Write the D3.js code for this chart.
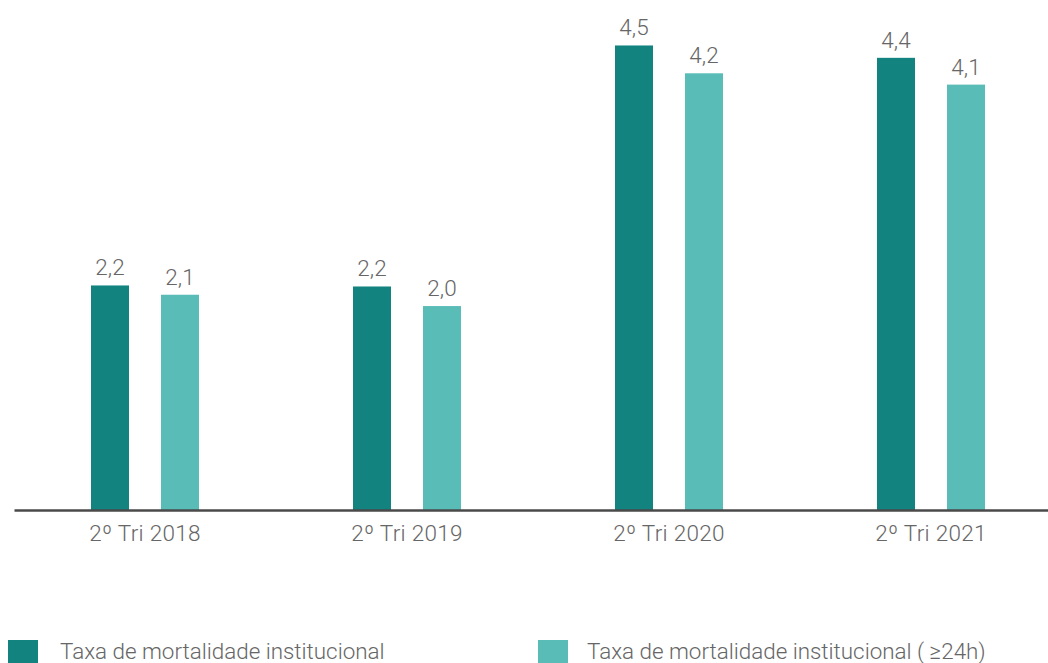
<!DOCTYPE html>
<meta charset="utf-8">
<style>
body { margin: 0; background: #fff; }
svg text { font-family: Roboto, "Noto Sans", sans-serif; font-weight: 300; fill: #666; }
.axis path { stroke: #4a4a4a; stroke-width: 2.5px; }
.axis text { font-size: 22.5px; letter-spacing: 0.3px; }
.value { font-size: 22.5px; }
.legend text { font-size: 22.4px; }
</style>
<svg width="1048" height="663"></svg>
<script src="https://cdn.jsdelivr.net/npm/d3@7"></script>
<script>

var categories = ["2º Tri 2018", "2º Tri 2019", "2º Tri 2020", "2º Tri 2021"];
var series = ["Taxa de mortalidade institucional", "Taxa de mortalidade institucional ( ≥24h)"];
var mortalidade = [2.18, 2.17, 4.51, 4.39];
var mortalidade24h = [2.09, 1.98, 4.24, 4.13];
var colors = ["#12837f", "#5abcb6"];

var svg = d3.select("svg");

var rows = categories.map(function(c, i) {
  return { cat: c, values: [mortalidade[i], mortalidade24h[i]] };
});

var x0 = d3.scaleBand()
    .domain(categories)
    .range([14, 1062]);

var x1 = d3.scaleBand()
    .domain(d3.range(series.length))
    .range([77, 185])
    .paddingInner(32 / 70);

var y = d3.scaleLinear()
    .domain([0, 5])
    .range([510, -5]);

var fmt = function(v) { return d3.format(".1f")(v).replace(".", ","); };

var group = svg.append("g")
  .selectAll("g")
  .data(rows)
  .enter().append("g")
    .attr("transform", function(d) { return "translate(" + x0(d.cat) + ",0)"; });

var bars = group.selectAll("g")
  .data(function(d) { return d.values.map(function(v, i) { return { i: i, v: v }; }); })
  .enter().append("g");

bars.append("rect")
    .attr("x", function(d) { return x1(d.i); })
    .attr("y", function(d) { return y(d.v); })
    .attr("width", x1.bandwidth())
    .attr("height", function(d) { return y(0) - y(d.v); })
    .attr("fill", function(d) { return colors[d.i]; });

bars.append("text")
    .attr("class", "value")
    .attr("x", function(d) { return x1(d.i) + x1.bandwidth() / 2; })
    .attr("y", function(d) { return y(d.v) - 10; })
    .attr("text-anchor", "middle")
    .text(function(d) { return fmt(d.v); });

var axis = svg.append("g")
    .attr("class", "axis")
    .attr("transform", "translate(0," + y(0) + ")")
    .call(d3.axisBottom(x0).tickSize(0).tickPadding(15));
axis.selectAll("text").style("fill", "#666").attr("font-family", null).attr("font-size", null);

var legend = svg.append("g")
    .attr("class", "legend")
  .selectAll("g")
  .data(series)
  .enter().append("g")
    .attr("transform", function(d, i) { return "translate(" + [8, 538][i] + ",640)"; });

legend.append("rect")
    .attr("width", 30)
    .attr("height", 24)
    .attr("fill", function(d, i) { return colors[i]; });

legend.append("text")
    .attr("x", function(d, i) { return [52, 49][i]; })
    .attr("y", 19)
    .text(function(d) { return d; });

</script>
